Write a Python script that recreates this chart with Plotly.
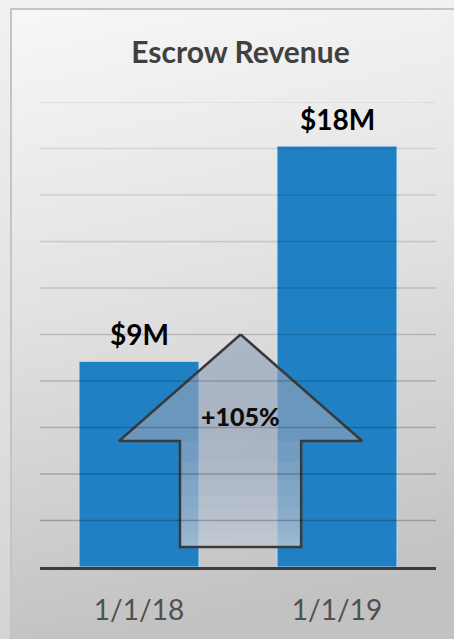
import base64
import plotly.graph_objects as go

# ---- data -------------------------------------------------------------
periods = ["1/1/18", "1/1/19"]
revenue_musd = [8.84, 18.1]          # escrow revenue, $ millions
axis_max = 20
grid_values = [2, 4, 6, 8, 10, 12, 14, 16, 18, 20]

# ---- canvas geometry ----------------------------------------------------
W, H = 454, 639
M = dict(l=40, r=18, t=102, b=72)
PW, PH = W - M["l"] - M["r"], H - M["t"] - M["b"]

FONT = "Lato, 'Open Sans', sans-serif"
BAR_BLUE = "rgb(32,128,196)"

x_pos = list(range(len(periods)))
growth = round((revenue_musd[1] / revenue_musd[0] - 1) * 100)

fig = go.Figure()

fig.add_trace(go.Bar(
    x=x_pos, y=revenue_musd, width=0.605,
    marker=dict(color=BAR_BLUE, line=dict(color="rgba(190,225,250,0.75)", width=1)),
    hoverinfo="skip", showlegend=False,
))

# ---- block arrow showing the year-over-year growth ----------------------
cx = 0.513          # arrow centre, x-axis units
tip_y, head_y, foot_y = 10.0, 5.42, 0.86
head_hw, shaft_hw = 0.614, 0.306

outline_x = [cx, cx + head_hw, cx + shaft_hw, cx + shaft_hw, cx - shaft_hw,
             cx - shaft_hw, cx - head_hw, cx]
outline_y = [tip_y, head_y, head_y, foot_y, foot_y, head_y, head_y, tip_y]

fig.add_trace(go.Scatter(
    x=outline_x, y=outline_y, mode="lines", fill="toself",
    fillcolor="rgba(145,163,186,0.66)", line=dict(width=0),
    hoverinfo="skip", showlegend=False,
))

# soft white glow rising from the foot of the arrow, fading out up the shaft
n_glow = 10
glow_span = head_y - foot_y
for k in range(1, n_glow + 1):
    top = foot_y + glow_span * (k / n_glow) ** 2
    fig.add_trace(go.Scatter(
        x=[cx - shaft_hw, cx + shaft_hw, cx + shaft_hw, cx - shaft_hw, cx - shaft_hw],
        y=[top, top, foot_y, foot_y, top],
        mode="lines", fill="toself",
        fillcolor="rgba(255,255,255,0.05)", line=dict(width=0),
        hoverinfo="skip", showlegend=False,
    ))

fig.add_trace(go.Scatter(
    x=outline_x, y=outline_y, mode="lines",
    line=dict(color="#3a3a3a", width=2.5),
    hoverinfo="skip", showlegend=False,
))

fig.add_annotation(
    x=cx, y=head_y + 1.08, xref="x", yref="y",
    text=f"+{growth}%", showarrow=False,
    font=dict(family=FONT, size=25, color="#0d0d0d", weight=900),
)

# value labels above each bar
for xv, v in zip(x_pos, revenue_musd):
    fig.add_annotation(
        x=xv, y=v, xref="x", yref="y", yanchor="middle", yshift=27,
        text=f"<b>${v:.0f}M</b>", showarrow=False,
        font=dict(family=FONT, size=28, color="#000000"),
    )

# gridlines drawn over the bars, darkening towards the baseline
shapes = []
for g in grid_values:
    alpha = 0.25 - 0.17 * g / axis_max
    shapes.append(dict(
        type="line", xref="paper", yref="y", x0=0, x1=1, y0=g, y1=g,
        line=dict(color=f"rgba(0,0,0,{alpha:.3f})", width=1.5), layer="above",
    ))

# ---- background: page wash plus the framed gradient panel ---------------
svg = f"""<svg xmlns='http://www.w3.org/2000/svg' width='{W}' height='{H}' viewBox='0 0 {W} {H}' preserveAspectRatio='none'>
<defs>
<linearGradient id='o' x1='0' y1='0' x2='0' y2='1'>
<stop offset='0' stop-color='#f1f1f1'/><stop offset='1' stop-color='#d4d4d4'/></linearGradient>
<linearGradient id='p' x1='0' y1='0' x2='0.15' y2='1'>
<stop offset='0' stop-color='#f7f7f7'/><stop offset='0.45' stop-color='#e3e3e3'/>
<stop offset='1' stop-color='#c2c2c2'/></linearGradient>
</defs>
<rect width='{W}' height='{H}' fill='url(#o)'/>
<rect x='11' y='9' width='{W}' height='{H}' fill='url(#p)' stroke='#c4c4c4' stroke-width='2'/>
</svg>"""
bg_src = "data:image/svg+xml;base64," + base64.b64encode(svg.encode()).decode()

fig.add_layout_image(dict(
    source=bg_src, xref="paper", yref="paper",
    x=-M["l"] / PW, y=1 + M["t"] / PH,
    sizex=W / PW, sizey=H / PH,
    xanchor="left", yanchor="top", sizing="stretch", layer="below",
))

fig.update_layout(
    width=W, height=H, margin=M,
    paper_bgcolor="#e6e6e6", plot_bgcolor="rgba(0,0,0,0)",
    shapes=shapes,
    title=dict(
        text="<b>Escrow Revenue</b>", x=240.5 / W, xanchor="center",
        y=1 - 52 / H, yanchor="middle", xref="container", yref="container",
        font=dict(family=FONT, size=30, color="#404040"),
    ),
    xaxis=dict(
        range=[-0.5, 1.5], tickvals=x_pos, ticktext=periods,
        showgrid=False, zeroline=False,
        showline=True, linecolor="#3c3c3c", linewidth=3,
        ticks="outside", ticklen=16, tickcolor="rgba(0,0,0,0)",
        tickfont=dict(family=FONT, size=28, color="#505050"),
        fixedrange=True,
    ),
    yaxis=dict(
        range=[0, axis_max], showgrid=False, zeroline=False,
        showticklabels=False, ticks="", fixedrange=True,
    ),
    bargap=0.395,
    font=dict(family=FONT),
)

fig.write_html("out.html", config={"displayModeBar": False})
